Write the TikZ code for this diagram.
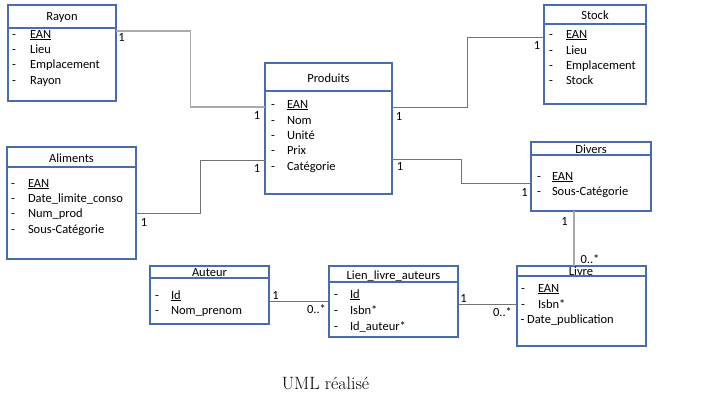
\documentclass[tikz,border=0pt]{standalone}
\usepackage{fontspec}
\setmainfont{Latin Modern Roman}
\newfontfamily\carlitofont{Carlito}
\definecolor{boxblue}{RGB}{72,108,176}
\definecolor{conngray}{RGB}{115,115,115}
\definecolor{connlight}{RGB}{170,170,170}
\tikzset{
  umlbox/.style={draw=boxblue, line width=1.1pt, fill=white},
  hdr/.style={draw=boxblue, line width=1.1pt},
  conn/.style={draw=conngray, line width=1pt},
  connl/.style={draw=connlight, line width=1.6pt},
  txt/.style={inner sep=0pt, outer sep=0pt, anchor=base west, font=\carlitofont\fontsize{12.5}{14}\selectfont},
  ttl/.style={inner sep=0pt, outer sep=0pt, anchor=base, font=\carlitofont\fontsize{12.5}{14}\selectfont},
  dsh/.style={inner sep=0pt, outer sep=0pt, anchor=base, font=\carlitofont\fontsize{12.5}{14}\selectfont},
  mult/.style={inner sep=0pt, outer sep=0pt, anchor=center, font=\carlitofont\fontsize{12.5}{14}\selectfont},
}
\newcommand{\umlattr}[5]{%
  \node[dsh] (#1d) at (#2,#4) {-};
  \node[txt] (#1) at (#3,#4) {#5};}
\newcommand{\umlbox}[6]{% name, x1, y1, x2, y2, header y
  \node[umlbox, minimum width={(#4-#2)*1pt}, minimum height={(#5-#3)*1pt}, inner sep=0pt, outer sep=0pt, anchor=north west] (#1) at (#2,#3) {};
  \draw[hdr] (#1.west |- 0,#6) -- (#1.east |- 0,#6);}
\begin{document}
\begin{tikzpicture}[x=1pt,y=-1pt]
\useasboundingbox (0,0) rectangle (701,415);
\fill[white] (0,0) rectangle (701,415);

% connectors
\coordinate (c1) at (190.5,31);
\coordinate (c2) at (190.5,107);
\coordinate (c3) at (467.5,107);
\coordinate (c4) at (467.5,37);
\coordinate (c5) at (461.5,159.5);
\coordinate (c6) at (461.5,183.5);
\coordinate (c7) at (200,213.5);
\coordinate (c8) at (200,160);

% boxes
\umlbox{rayon}{8}{5}{116}{101}{28}
\umlbox{produits}{265}{63}{392}{194}{91}
\umlbox{stock}{544}{5}{646}{104}{24}
\umlbox{divers}{531}{142}{651}{211}{155}
\umlbox{aliments}{7}{147}{136}{259}{167}
\umlbox{auteur}{150}{266}{269}{324}{278}
\umlbox{lien}{329}{266}{458}{337}{282}
\umlbox{livre}{517}{266}{646}{346}{276}

\draw[connl] (rayon.east |- c1) -- (c1) -- (c2) -- (produits.west |- c2);
\draw[conn] (produits.east |- c3) -- (c3) -- (c4) -- (stock.west |- c4);
\draw[conn] (produits.east |- c5) -- (c5) -- (c6) -- (divers.west |- c6);
\draw[conn] (aliments.east |- c7) -- (c7) -- (c8) -- (produits.west |- c8);
\draw[connl] (divers.south -| 574,0) -- (livre.north -| 574,0);
\draw[conn] (auteur.east |- 0,301) -- (lien.west |- 0,301);
\draw[conn] (lien.east |- 0,304) -- (livre.west |- 0,304);

% titles
\node[ttl] (rayonT) at (62,20) {Rayon};
\node[ttl] (produitsT) at (328.5,82) {Produits};
\node[ttl] (stockT) at (595,19) {Stock};
\node[ttl] (diversT) at (591,153) {Divers};
\node[ttl] (alimentsT) at (71.5,162) {Aliments};
\node[ttl] (auteurT) at (209.5,276) {Auteur};
\node[ttl] (lienT) at (393.5,279) {Lien\_livre\_auteurs};
\node[ttl] (livreT) at (581,275) {Livre};

% attributes
\umlattr{ra1}{14}{30}{38}{\underline{EAN}}
\umlattr{ra2}{14}{30}{53}{Lieu}
\umlattr{ra3}{14}{30}{68}{Emplacement}
\umlattr{ra4}{14}{30}{84}{Rayon}

\umlattr{pr1}{273}{287}{108}{\underline{EAN}}
\umlattr{pr2}{273}{287}{124}{Nom}
\umlattr{pr3}{273}{287}{139}{Unité}
\umlattr{pr4}{273}{287}{154}{Prix}
\umlattr{pr5}{273}{287}{170}{Catégorie}

\umlattr{st1}{551}{566}{38}{\underline{EAN}}
\umlattr{st2}{551}{566}{54}{Lieu}
\umlattr{st3}{551}{566}{69}{Emplacement}
\umlattr{st4}{551}{566}{84}{Stock}

\umlattr{di1}{539}{552}{180}{\underline{EAN}}
\umlattr{di2}{539}{552}{195}{Sous-Catégorie}

\umlattr{al1}{13}{28}{187}{\underline{EAN}}
\umlattr{al2}{13}{28}{202}{Date\_limite\_conso}
\umlattr{al3}{13}{28}{217}{Num\_prod}
\umlattr{al4}{13}{28}{233}{Sous-Catégorie}

\umlattr{au1}{157}{171}{299}{\underline{Id}}
\umlattr{au2}{157}{171}{314}{Nom\_prenom}

\umlattr{li1}{336}{350}{298}{\underline{Id}}
\umlattr{li2}{336}{350}{314}{Isbn*}
\umlattr{li3}{336}{350}{330}{Id\_auteur*}

\umlattr{lv1}{523}{538}{292}{\underline{EAN}}
\umlattr{lv2}{523}{538}{308}{Isbn*}
\node[txt] (lv3) at (520.5,323) {- Date\_publication};

% multiplicities
\node[mult] (m1) at (121.5,37) {1};
\node[mult] (m2) at (257,115) {1};
\node[mult] (m3) at (257,168.5) {1};
\node[mult] (m4) at (144,222.5) {1};
\node[mult] (m5) at (399,116.5) {1};
\node[mult] (m6) at (400,166) {1};
\node[mult] (m7) at (537,45) {1};
\node[mult] (m8) at (524.5,192) {1};
\node[mult] (m9) at (564.5,221) {1};
\node[mult] (m10) at (590,259) {0..*};
\node[mult] (m11) at (275.5,295) {1};
\node[mult] (m12) at (316.5,309) {0..*};
\node[mult] (m13) at (463.5,298.5) {1};
\node[mult] (m14) at (502.5,312) {0..*};

% caption
\node[inner sep=0pt, anchor=base, font=\fontsize{17.8}{20}\selectfont] (caption) at (325.5,389) {UML réalisé};
\end{tikzpicture}
\end{document}
